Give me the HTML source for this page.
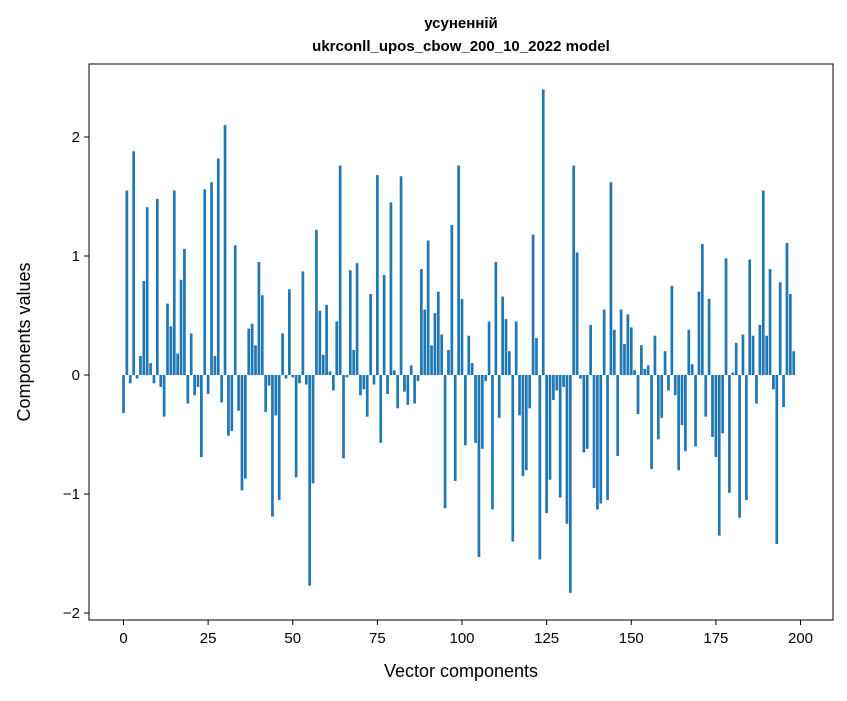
<!DOCTYPE html>
<html><head><meta charset="utf-8"><style>
body{margin:0;background:#fff;font-family:"Liberation Sans","DejaVu Sans",sans-serif}
</style></head><body>
<svg id="chart" width="847" height="696" xmlns="http://www.w3.org/2000/svg" font-family="Liberation Sans, DejaVu Sans, sans-serif">
<rect width="847" height="696" fill="#fff"/>
<text x="461" y="28" text-anchor="middle" font-size="15" font-weight="bold">усуненній</text>
<text x="461" y="51" text-anchor="middle" font-size="15" font-weight="bold">ukrconll_upos_cbow_200_10_2022 model</text>
<g id="bars"></g>
<rect x="89" y="64" width="744" height="556" fill="none" stroke="#000" stroke-width="1"/>
<g id="xt"></g>
<g id="yt"></g>
<text x="461" y="677" text-anchor="middle" font-size="18">Vector components</text>
<text transform="translate(30,342) rotate(-90)" text-anchor="middle" font-size="18">Components values</text>
</svg>
<script>
const values=[-0.32,1.55,-0.07,1.88,-0.03,0.16,0.79,1.41,0.1,-0.07,1.48,-0.1,-0.35,0.6,0.41,1.55,0.18,0.8,1.06,-0.24,0.35,-0.17,-0.1,-0.69,1.56,-0.16,1.62,0.16,1.82,-0.23,2.1,-0.51,-0.47,1.09,-0.3,-0.97,-0.87,0.39,0.43,0.25,0.95,0.67,-0.31,-0.09,-1.19,-0.34,-1.05,0.35,-0.03,0.72,-0.02,-0.86,-0.07,0.87,-0.08,-1.77,-0.91,1.22,0.54,0.17,0.59,0.03,-0.13,0.45,1.76,-0.7,-0.02,0.88,0.21,0.94,-0.17,-0.12,-0.35,0.68,-0.08,1.68,-0.57,0.84,-0.16,1.45,0.04,-0.28,1.67,-0.14,-0.25,0.08,-0.24,-0.05,0.89,0.55,1.13,0.25,0.52,0.7,0.34,-1.12,0.21,1.26,-0.89,1.76,0.64,-0.59,0.33,0.1,-0.57,-1.53,-0.62,-0.05,0.45,-1.13,0.95,-0.36,0.66,0.47,0.2,-1.4,0.45,-0.34,-0.85,-0.8,-0.28,1.18,0.31,-1.55,2.4,-1.16,-0.88,-0.21,-0.13,-1.03,-0.1,-1.25,-1.83,1.76,1.03,-0.03,-0.65,-0.62,0.42,-0.95,-1.13,-1.08,0.55,-1.05,1.62,0.38,-0.68,0.55,0.26,0.51,0.4,0.04,-0.33,0.25,0.05,0.08,-0.79,0.33,-0.54,-0.36,0.2,-0.13,0.75,-0.17,-0.8,-0.42,-0.64,0.38,0.09,-0.6,0.7,1.1,-0.35,0.64,-0.52,-0.69,-1.35,-0.49,0.98,-0.99,0.02,0.27,-1.2,0.34,-1.05,0.97,0.33,-0.24,0.42,1.55,0.33,0.89,-0.12,-1.42,0.78,-0.27,1.11,0.68,0.2];
const xTicks=[0,25,50,75,100,125,150,175,200];
const yTicks=[-2,-1,0,1,2];
const NS="http://www.w3.org/2000/svg";
const xs=v=>123.5+v*3.385;
const ys=v=>375-v*119;
const bars=document.getElementById('bars');
values.forEach((v,i)=>{
  const r=document.createElementNS(NS,'rect');
  const y0=ys(0),y1=ys(v);
  r.setAttribute('x',xs(i)-1.354);
  r.setAttribute('width',2.708);
  r.setAttribute('y',Math.min(y0,y1));
  r.setAttribute('height',Math.abs(y1-y0));
  r.setAttribute('fill','#1f77b4');
  
  
  bars.appendChild(r);
});
const xt=document.getElementById('xt');
xTicks.forEach(t=>{
  const l=document.createElementNS(NS,'line');
  l.setAttribute('x1',xs(t));l.setAttribute('x2',xs(t));l.setAttribute('y1',620);l.setAttribute('y2',625);l.setAttribute('stroke','#000');
  
  
  xt.appendChild(l);
  const tx=document.createElementNS(NS,'text');
  tx.setAttribute('x',xs(t));tx.setAttribute('y',643);tx.setAttribute('text-anchor','middle');tx.setAttribute('font-size','15');
  tx.textContent=t;
  
  
  xt.appendChild(tx);
});
const yt=document.getElementById('yt');
yTicks.forEach(t=>{
  const l=document.createElementNS(NS,'line');
  l.setAttribute('x1',84);l.setAttribute('x2',89);l.setAttribute('y1',ys(t));l.setAttribute('y2',ys(t));l.setAttribute('stroke','#000');
  
  
  yt.appendChild(l);
  const tx=document.createElementNS(NS,'text');
  tx.setAttribute('x',80);tx.setAttribute('y',ys(t)+5);tx.setAttribute('text-anchor','end');tx.setAttribute('font-size','15');
  tx.textContent=t<0?'\u2212'+Math.abs(t):t;
  
  
  yt.appendChild(tx);
});
</script>
</body></html>
